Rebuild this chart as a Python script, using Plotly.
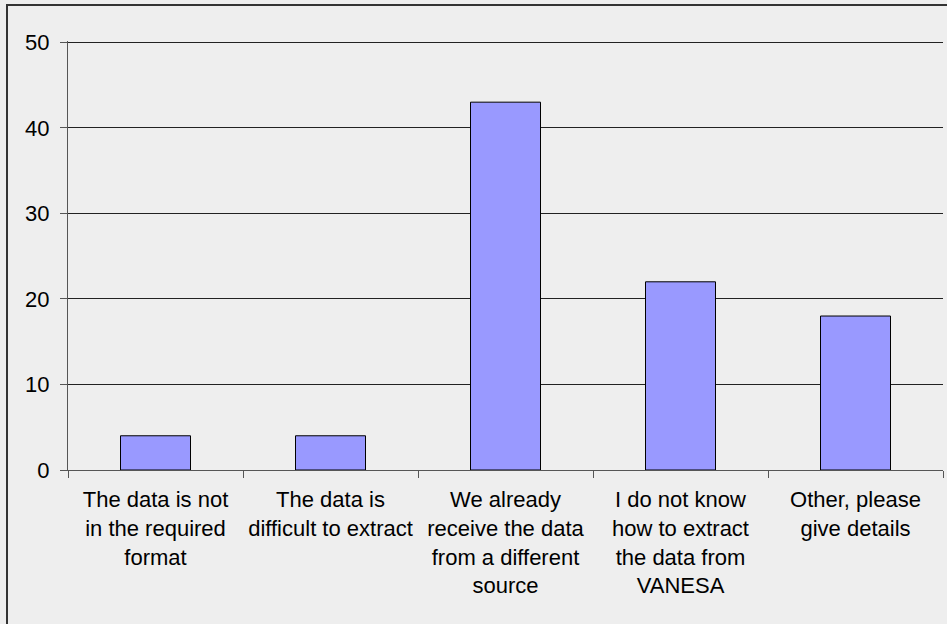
import plotly.graph_objects as go

# Survey responses: reasons for not using the data
categories = [
    "The data is not<br>in the required<br>format",
    "The data is<br>difficult to extract",
    "We already<br>receive the data<br>from a different<br>source",
    "I do not know<br>how to extract<br>the data from<br>VANESA",
    "Other, please<br>give details",
]
responses = [4, 4, 43, 22, 18]

W, H = 947, 624
L, R, T, B = 68, 4, 41, 154
pw, ph = W - L - R, H - T - B

fig = go.Figure(
    go.Bar(
        x=categories,
        y=responses,
        width=0.4,
        marker=dict(color="#9999ff", line=dict(color="#000000", width=1)),
    )
)

font = dict(family="Liberation Sans, Arial, sans-serif", size=22, color="#000000")

fig.update_layout(
    width=W,
    height=H,
    margin=dict(l=L, r=R, t=T, b=B),
    paper_bgcolor="#eeeeee",
    plot_bgcolor="#eeeeee",
    font=font,
    showlegend=False,
    bargap=0.6,
)

fig.update_yaxes(
    range=[0, 50.15],
    tickvals=[0, 10, 20, 30, 40, 50],
    showgrid=True,
    gridcolor="#222222",
    gridwidth=1,
    showline=True,
    linecolor="#555555",
    linewidth=1,
    ticks="outside",
    ticklen=7,
    tickcolor="#555555",
    zeroline=False,
    tickfont=font,
    ticklabelstandoff=6,
)

fig.update_xaxes(
    showline=True,
    linecolor="#555555",
    linewidth=1,
    ticks="outside",
    tickson="boundaries",
    ticklen=7,
    tickcolor="#555555",
    tickangle=0,
    tickfont=font,
    showgrid=False,
    ticklabelstandoff=10,
)

# Frame around the chart area
fig.add_shape(
    type="rect",
    xref="paper",
    yref="paper",
    x0=(7 - L) / pw,
    x1=(W + 20 - L) / pw,
    y0=-(B + 20) / ph,
    y1=1 + (T - 5) / ph,
    line=dict(color="#333333", width=2),
    fillcolor="rgba(0,0,0,0)",
    layer="above",
)

fig.write_html("out.html")
